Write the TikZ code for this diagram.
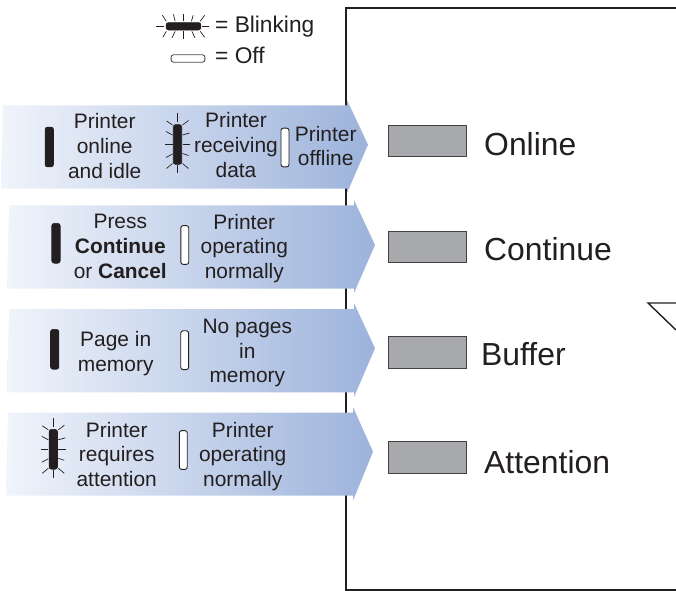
\documentclass[tikz,border=0pt]{standalone}
\usepackage{fontspec}
\setmainfont{Liberation Sans}
\definecolor{inkdark}{HTML}{231F20}
\definecolor{btngray}{HTML}{A7A9AC}
\definecolor{bandleft}{HTML}{F0F4FB}
\definecolor{bandright}{HTML}{9DB3DB}
\tikzset{
  banner/.style={left color=bandleft,right color=bandright,draw=none},
  ledon/.style={draw=inkdark,fill=inkdark,line width=0.6pt,rounded corners=2.5pt,minimum width=8.5pt,minimum height=40pt},
  ledoff/.style={draw=inkdark,fill=white,line width=0.9pt,rounded corners=2.5pt,minimum width=8pt,minimum height=39pt},
  ledray/.style={draw=inkdark,line width=0.7pt},
  btn/.style={draw=inkdark!85,fill=btngray,line width=1.1pt,minimum width=79pt,minimum height=31.5pt},
  txt/.style={align=center,text=inkdark,font=\fontsize{21}{25}\selectfont},
  btntxt/.style={anchor=west,text=inkdark,font=\fontsize{32}{36}\selectfont},
  keytxt/.style={anchor=base west,text=inkdark,font=\fontsize{22.8}{25}\selectfont},
  blinkrays/.pic={
    \draw[ledray] (0,22) -- (0,31);
    \draw[ledray] (0,-21) -- (0,-29);
    \draw[ledray] (-5,0) -- (-12.5,0);
    \draw[ledray] (5,0) -- (12.5,0);
    \draw[ledray] (-5,19.5) -- (-11,23.5);
    \draw[ledray] (5,19.5) -- (11,24);
    \draw[ledray] (-5,9.5) -- (-11.5,13);
    \draw[ledray] (5,9.5) -- (12,11.5);
    \draw[ledray] (-5,-9.5) -- (-11.5,-13);
    \draw[ledray] (5,-9) -- (11,-11);
    \draw[ledray] (-5,-19) -- (-11,-24);
    \draw[ledray] (5,-19) -- (11,-24);
  }
}
\begin{document}
\begin{tikzpicture}[x=1bp,y=1bp]
\tikzstyle{every node}+=[inner sep=0pt]
\useasboundingbox (0,0) rectangle (676,-591);
\draw[inkdark,line width=1.3pt] (676,-8) -- (346,-8) -- (346,-590) -- (676,-590);
\draw[inkdark,line width=1.4pt] (676,-303) -- (648,-303) -- (676,-330);

\node[ledon,minimum width=35pt,minimum height=7.5pt] (keyon) at (183.5,-26.3) {};
\pic[rotate=90,yscale=0.88] at (keyon) {blinkrays};
\node[keytxt] (keyblink) at (215,-33) {= Blinking};
\node[ledoff,minimum width=34pt,minimum height=7.5pt,draw=inkdark!80] (keyoff) at (188,-58.5) {};
\node[keytxt] (keyout) at (215,-64) {= Off};

\shade[banner] (3,-105.5) -- (347,-105.5) -- (347,-100) -- (368,-144.7) -- (347,-193) -- (347,-188.7) -- (1,-188.7) -- cycle;
\node[ledon] (on1) at (49.3,-147) {};
\node[txt] (on1txt) at (104.7,-146) {Printer\\online\\and idle};
\node[ledon] (blink1) at (177.5,-144.5) {};
\pic at (blink1) {blinkrays};
\node[txt] (blink1txt) at (236,-145) {Printer\\receiving\\data};
\node[ledoff] (off1) at (285,-147.5) {};
\node[txt] (off1txt) at (325.7,-146) {Printer\\offline};

\shade[banner] (9,-205.3) -- (354,-205.3) -- (354,-200) -- (375,-245) -- (354,-293) -- (354,-288.7) -- (7,-288.7) -- cycle;
\node[ledon] (on2) at (56,-243.3) {};
\node[txt] (on2txt) at (120.3,-246.7) {Press\\\textbf{Continue}\\or \textbf{Cancel}};
\node[ledoff] (off2) at (184.8,-245) {};
\node[txt] (off2txt) at (244.3,-248.5) {Printer\\operating\\normally};

\shade[banner] (9,-309) -- (354,-309) -- (354,-303) -- (375,-348.3) -- (354,-397) -- (354,-392.3) -- (7,-392.3) -- cycle;
\node[ledon] (on3) at (54.7,-349.3) {};
\node[txt] (on3txt) at (115.7,-353.5) {Page in\\memory};
\node[ledoff] (off3) at (184.7,-350.2) {};
\node[txt] (off3txt) at (247.3,-353) {No pages\\in\\memory};

\shade[banner] (8,-412.7) -- (353,-412.7) -- (353,-407) -- (373,-451.7) -- (353,-500.7) -- (353,-495.7) -- (6,-495.7) -- cycle;
\node[ledon] (blink4) at (53.3,-449.3) {};
\pic at (blink4) {blinkrays};
\node[txt] (blink4txt) at (116.7,-454.5) {Printer\\requires\\attention};
\node[ledoff] (off4) at (183.3,-450) {};
\node[txt] (off4txt) at (242.7,-456.5) {Printer\\operating\\normally};

\node[btn] (online) at (427.5,-141) {};
\node[btntxt] (onlinetxt) at (484,-144) {Online};
\node[btn] (continue) at (427.5,-247) {};
\node[btntxt] (continuetxt) at (484,-249) {Continue};
\node[btn] (buffer) at (427.5,-352.5) {};
\node[btntxt] (buffertxt) at (481,-354) {Buffer};
\node[btn] (attention) at (427.5,-457.5) {};
\node[btntxt] (attentiontxt) at (484,-462) {Attention};
\end{tikzpicture}
\end{document}
